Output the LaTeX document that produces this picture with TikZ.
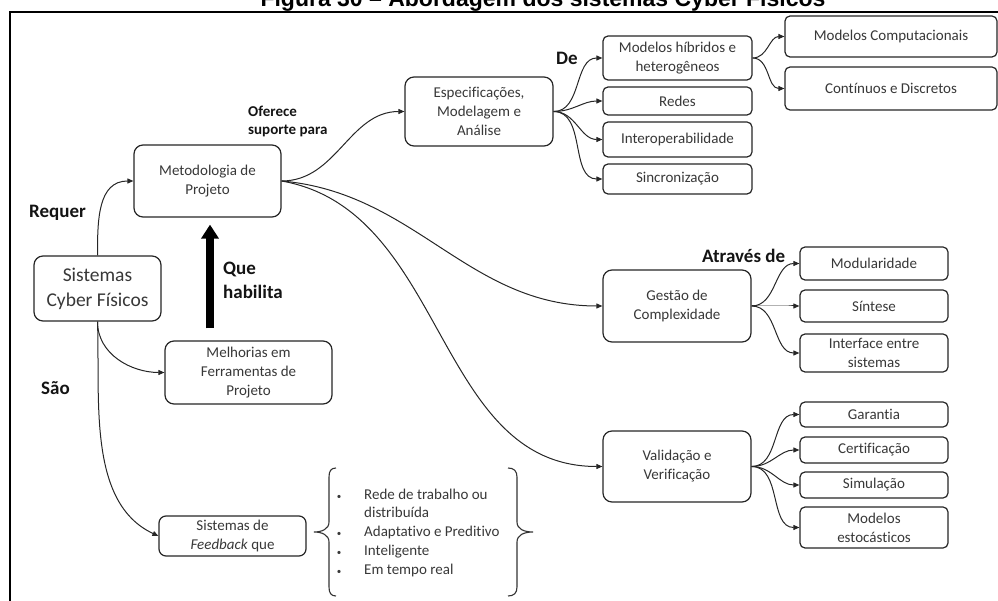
\documentclass[tikz,border=0pt]{standalone}
\usepackage{fontspec}
\setmainfont{Carlito}[Ligatures={NoCommon}]
\newfontfamily\titlefont{Liberation Sans}
\usetikzlibrary{arrows.meta,calc}

\tikzset{
  box/.style={draw=black!85, line width=1.2pt, rounded corners=7pt, fill=white,
    text=black!78, align=center, inner sep=0pt, font=\fontsize{15}{19}\selectfont},
  small/.style={box, rounded corners=5pt},
  lbl/.style={font=\bfseries\fontsize{19}{24}\selectfont, text=black!92,
    inner sep=0pt, anchor=west, align=left},
  conn/.style={draw=black!85, line width=1pt, -{Triangle[length=6pt,width=5pt]}},
  bigarrow/.style={draw=black, line width=8pt, -{Triangle[length=14pt,width=17pt]}},
  bracket/.style={draw=black!80, line width=1.1pt},
}

\begin{document}
\begin{tikzpicture}[x=1pt,y=-1pt]
\useasboundingbox (0,0) rectangle (998,601);
\clip (0,0) rectangle (998,601);

% caption and outer frame
\node[font=\titlefont\bfseries\fontsize{23}{28}\selectfont, anchor=base, inner sep=0pt]
  (title) at (543,6.5) {Figura 30 – Abordagem dos sistemas Cyber Físicos};
\draw[line width=1.5pt] (10,620) -- (10,12) -- (1010,12);

% left column
\node[box, minimum width=127pt, minimum height=65pt, rounded corners=9pt,
      font=\fontsize{19.5}{25}\selectfont] (sys) at (97.5,288.5) {Sistemas\\Cyber Físicos};
\node[box, minimum width=147pt, minimum height=72pt, rounded corners=9pt] (met) at (207.5,181) {Metodologia de\\Projeto};
\node[box, minimum width=167pt, minimum height=63pt, rounded corners=9pt] (mel) at (248.5,372.5) {Melhorias em\\Ferramentas de\\Projeto};
\node[box, minimum width=147pt, minimum height=40pt] (fb) at (232.5,536) {Sistemas de\\\textit{Feedback} que};

% labels
\node[lbl] (requer) at (29,213) {Requer};
\node[lbl] (sao) at (41,388) {São};
\node[lbl] (habilita) at (223,280) {Que\\habilita};
\node[lbl, font=\bfseries\fontsize{15}{18}\selectfont] (oferece) at (248,121) {Oferece\\suporte para};
\node[lbl] (de) at (556,58) {De};
\node[lbl] (atraves) at (702,256) {Através de};

% middle column
\node[box, minimum width=148pt, minimum height=69pt, rounded corners=9pt] (esp) at (479,111.5) {Especificações,\\Modelagem e\\Análise};
\node[box, minimum width=148pt, minimum height=72pt, rounded corners=9pt] (ges) at (677,306) {Gestão de\\Complexidade};
\node[box, minimum width=148pt, minimum height=71pt, rounded corners=9pt] (val) at (677,466.5) {Validação e\\Verificação};

% modelling branch
\node[small, minimum width=149pt, minimum height=44pt] (hib) at (677.5,58) {Modelos híbridos e\\heterogêneos};
\node[small, minimum width=149pt, minimum height=28pt] (redes) at (677.5,101) {Redes};
\node[small, minimum width=149pt, minimum height=35pt] (inter) at (677.5,139.5) {Interoperabilidade};
\node[small, minimum width=149pt, minimum height=30pt] (sinc) at (677.5,179) {Sincronização};
\node[small, minimum width=212pt, minimum height=41pt] (comp) at (891,36.5) {Modelos Computacionais};
\node[small, minimum width=212pt, minimum height=43pt] (cont) at (891,88.5) {Contínuos e Discretos};

% complexity branch
\node[small, minimum width=148pt, minimum height=33pt] (modu) at (874,263.5) {Modularidade};
\node[small, minimum width=148pt, minimum height=32pt] (sint) at (874,306) {Síntese};
\node[small, minimum width=148pt, minimum height=38pt] (intf) at (874,353) {Interface entre\\sistemas};

% validation branch
\node[small, minimum width=148pt, minimum height=25pt] (gar) at (874,414.5) {Garantia};
\node[small, minimum width=148pt, minimum height=26pt] (cert) at (874,450) {Certificação};
\node[small, minimum width=148pt, minimum height=26pt] (simu) at (874,485) {Simulação};
\node[small, minimum width=148pt, minimum height=41pt] (esto) at (874,527.5) {Modelos\\estocásticos};

% feedback characteristics
\node[anchor=base west, inner sep=0pt, text=black!78, font=\fontsize{15}{18.8}\selectfont] (lista) at (334,499)
  {\begin{tabular}[t]{@{}l@{\hspace{20pt}}l@{}}
   \makebox[10pt]{\small\textbullet} & Rede de trabalho ou\\
    & distribuída\\
   \makebox[10pt]{\small\textbullet} & Adaptativo e Preditivo\\
   \makebox[10pt]{\small\textbullet} & Inteligente\\
   \makebox[10pt]{\small\textbullet} & Em tempo real
   \end{tabular}};

% curly brackets around the list
\draw[bracket] (336,468) .. controls (331,468) and (329,471) .. (329,477) -- (329,522)
  .. controls (329,529) and (322,532) .. (314,532)
  .. controls (322,532) and (329,535) .. (329,542) -- (329,587)
  .. controls (329,593) and (331,596) .. (336,596);
\draw[bracket] (508,468) .. controls (514,468) and (517,471) .. (517,477) -- (517,522)
  .. controls (517,529) and (524,532) .. (533,532)
  .. controls (524,532) and (517,535) .. (517,542) -- (517,587)
  .. controls (517,593) and (514,596) .. (508,596);

% connectors
\coordinate (ax) at (210,0);
\draw[bigarrow, shorten <=12pt, shorten >=7pt] (ax |- mel.north) -- (ax |- met.south);

\draw[conn] (sys.north) to[out=90,in=180,looseness=1.1] (met.west);
\draw[conn] (sys.south) to[out=-90,in=180] (mel.west);
\draw[conn] (sys.south) to[out=-88,in=155,looseness=0.9] (fb.west);

\draw[conn] (met.east) to[out=0,in=180] (esp.west);
\draw[conn] (met.east) to[out=-5,in=180] (ges.west);
\draw[conn] (met.east) to[out=-10,in=180] (val.west);

\foreach \t in {hib,redes,inter,sinc} \draw[conn] (esp.east) to[out=0,in=180] (\t.west);
\foreach \t in {comp,cont} \draw[conn] (hib.east) to[out=0,in=180] (\t.west);
\foreach \t in {modu,sint,intf} \draw[conn] (ges.east) to[out=0,in=180] (\t.west);
\foreach \t in {gar,cert,simu,esto} \draw[conn] (val.east) to[out=0,in=180] (\t.west);
\end{tikzpicture}
\end{document}
